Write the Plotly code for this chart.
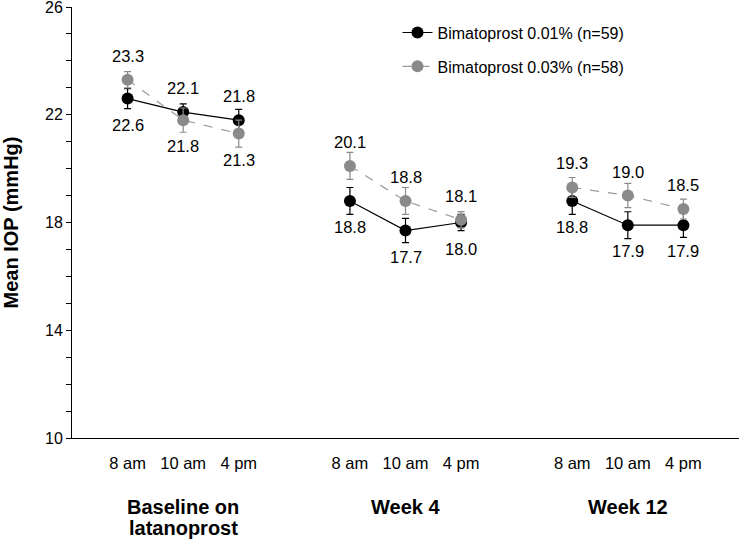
import plotly.graph_objects as go

# ---- data ----
groups = ["Baseline on<br>latanoprost", "Week 4", "Week 12"]
times = ["8 am", "10 am", "4 pm"]
x_pos = [0, 1, 2, 4, 5, 6, 8, 9, 10]
y_ticks = list(range(10, 27))
y_ticklabels = [str(v) if (v - 10) % 4 == 0 else "" for v in y_ticks]

bim001_mean = [22.6, 22.1, 21.8, 18.8, 17.7, 18.0, 18.8, 17.9, 17.9]
bim001_se = [0.37, 0.3, 0.4, 0.5, 0.45, 0.3, 0.5, 0.5, 0.45]
bim003_mean = [23.3, 21.8, 21.3, 20.1, 18.8, 18.1, 19.3, 19.0, 18.5]
bim003_se = [0.3, 0.45, 0.5, 0.5, 0.5, 0.3, 0.37, 0.45, 0.37]

# label placement (+1 above, -1 below)
bim001_lbl = [-1, 1, 1, -1, -1, -1, -1, -1, -1]
bim003_lbl = [1, -1, -1, 1, 1, 1, 1, 1, 1]

series = [
    dict(name="Bimatoprost 0.01% (n=59)", y=bim001_mean, e=bim001_se, lbl=bim001_lbl,
         color="#000000", line_color="#000000", dash="solid"),
    dict(name="Bimatoprost 0.03% (n=58)", y=bim003_mean, e=bim003_se, lbl=bim003_lbl,
         color="#8a8a8a", line_color="#9a9a9a", dash="dash"),
]

FONT = "Arial, Liberation Sans, sans-serif"
fig = go.Figure()
annotations = []

for s in series:
    for g in range(3):
        idx = slice(g * 3, g * 3 + 3)
        fig.add_trace(go.Scatter(
            x=x_pos[idx], y=s["y"][idx],
            mode="lines+markers",
            name=s["name"],
            legendgroup=s["name"],
            showlegend=(g == 0),
            line=dict(color=s["line_color"], width=1.2, dash=s["dash"]),
            marker=dict(color=s["color"], size=12),
            error_y=dict(type="data", array=s["e"][idx], color=s["color"],
                         thickness=1.2, width=3.5),
        ))
    for xi, yi, li in zip(x_pos, s["y"], s["lbl"]):
        annotations.append(dict(
            x=xi, y=yi, xref="x", yref="y", text=f"{yi:.1f}",
            showarrow=False, yshift=(24 if li > 0 else -26),
            font=dict(family=FONT, size=16.5, color="#000000"),
        ))

group_centers = [1, 5, 9]
for gx, gl in zip(group_centers, groups):
    for k, line in enumerate(gl.split("<br>")):
        annotations.append(dict(
            x=gx, y=0, xref="x", yref="paper", yanchor="top", yshift=-56 - 21 * k,
            text=f"<b>{line}</b>", showarrow=False, align="center",
            font=dict(family=FONT, size=20, color="#000000"),
        ))

fig.update_layout(
    width=739, height=539,
    margin=dict(l=72, r=0, t=7, b=101),
    plot_bgcolor="white", paper_bgcolor="white",
    font=dict(family=FONT, size=16, color="#000000"),
    showlegend=True,
    legend=dict(x=0.488, y=0.98, xanchor="left", yanchor="top",
                bgcolor="rgba(0,0,0,0)", tracegroupgap=10,
                font=dict(family=FONT, size=16, color="#000000"),
                itemwidth=30),
    annotations=annotations,
)

fig.update_xaxes(
    range=[-1, 11], showline=True, linecolor="#000000", linewidth=1,
    showgrid=False, zeroline=False, automargin=False,
    ticks="outside", ticklen=10, tickcolor="rgba(0,0,0,0)",
    tickvals=x_pos, ticktext=times * 3,
    tickfont=dict(family=FONT, size=16.5, color="#000000"),
)
fig.update_yaxes(
    range=[10, 26], showline=True, linecolor="#000000", linewidth=1,
    showgrid=False, zeroline=False, automargin=False,
    tickmode="array", tickvals=y_ticks, ticktext=y_ticklabels,
    ticks="outside", ticklen=5, tickcolor="#000000", tickwidth=1,
    ticklabeloverflow="allow",
    tickfont=dict(family=FONT, size=16, color="#000000"),
    title=dict(text="<b>Mean IOP (mmHg)</b>", standoff=22,
               font=dict(family=FONT, size=20, color="#000000")),
)

fig.write_html("out.html", config={"displayModeBar": False},
               post_script="document.body.style.margin='0';document.body.style.padding='0';")
